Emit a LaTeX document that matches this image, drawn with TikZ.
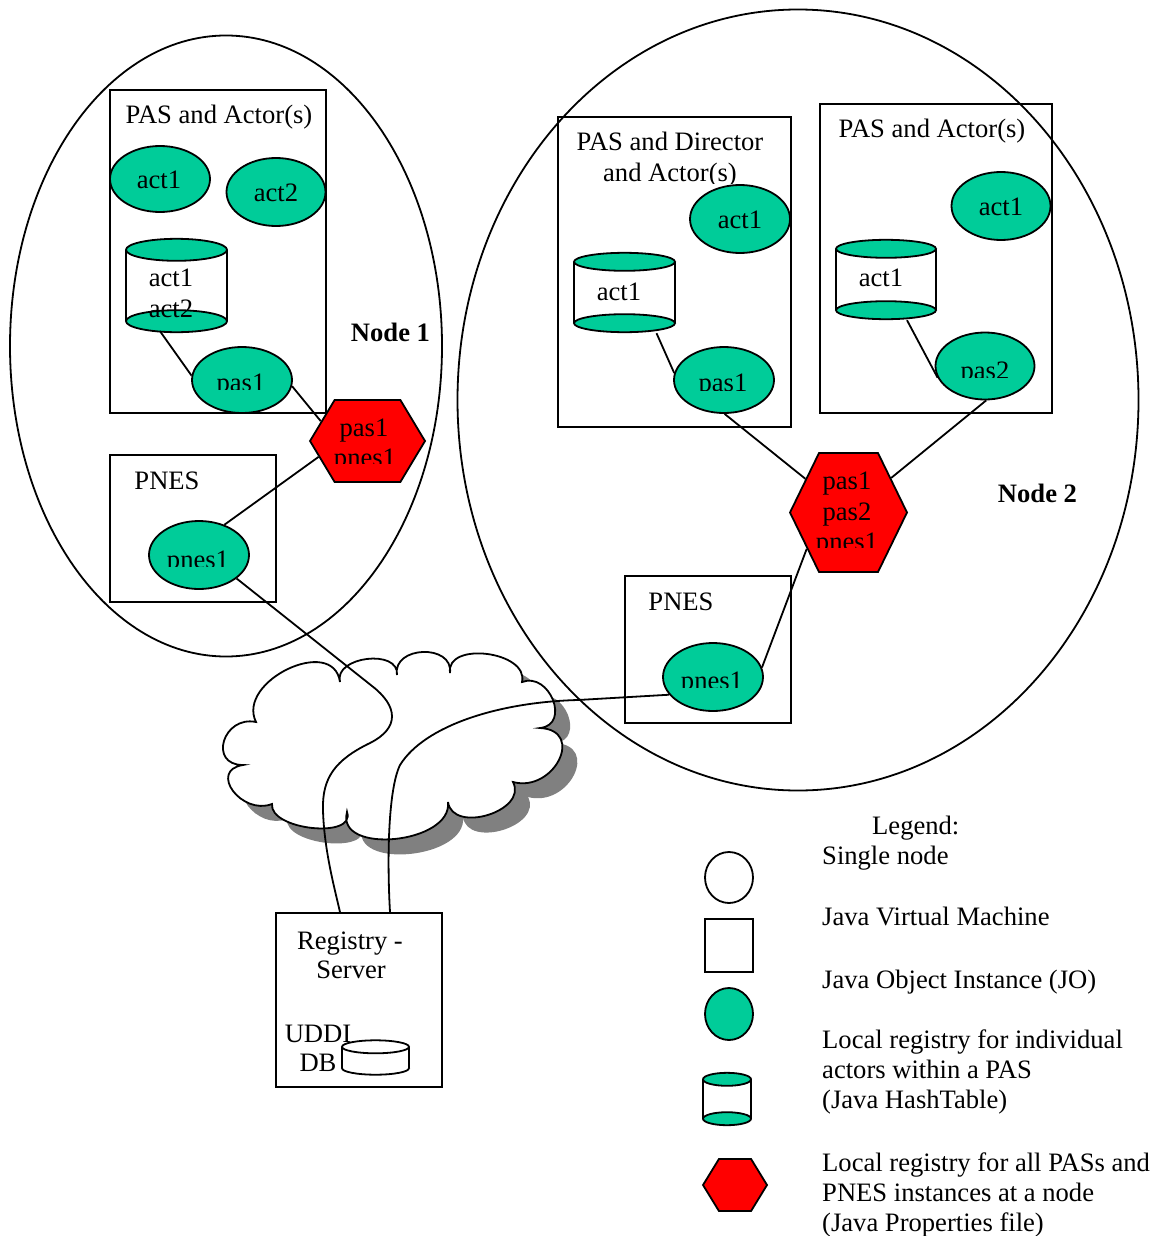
\documentclass[tikz,border=0pt]{standalone}
\usepackage{fontspec}
\setmainfont{Liberation Serif}
\usetikzlibrary{shapes.geometric,shapes.symbols,calc}
\definecolor{jo}{RGB}{0,204,153}
\definecolor{regred}{RGB}{255,0,0}
\definecolor{cloudshade}{RGB}{128,128,128}

% one puff of the network cloud: from #1 bulging through #2 to #3
\newcommand\cbump[3]{.. controls ($0.4133*(#1)+1.3333*(#2)-0.7467*(#3)$)
  and ($1.3333*(#2)+0.4133*(#3)-0.7467*(#1)$) .. (#3)}
\newcommand\cloudoutline{(256,722)
  \cbump{256,722}{288,669}{340,682}
  \cbump{340,682}{367,659}{397,675}
  \cbump{397,675}{423,652}{450,673}
  \cbump{450,673}{487,654}{522,682}
  \cbump{522,682}{553,700}{540,728}
  \cbump{540,728}{559,760}{513,782}
  \cbump{513,782}{488,815}{448,802}
  \cbump{448,802}{395,839}{347,812}
  \cbump{347,812}{312,828}{272,804}
  \cbump{272,804}{233,791}{243,765}
  \cbump{243,765}{224,741}{256,722} -- cycle}

% hashtable cylinder: name, centre x, centre y, width, height, cap half-height
\newcommand\hashtab[6]{%
  \node[cylbox, minimum width=#4, minimum height=#5] (#1) at (#2,#3) {};
  \fill[white] ($(#1.north west)+(0,#6)$) rectangle ($(#1.south east)+(0,-#6)$);
  \draw[ln] ($(#1.north west)+(0,#6)$) -- ($(#1.south west)+(0,-#6)$)
            ($(#1.north east)+(0,#6)$) -- ($(#1.south east)+(0,-#6)$);
  \draw[ln, fill=jo] ($(#1.south)+(0,-#6)$) ellipse [x radius=#4/2, y radius=#6];
  \draw[ln, fill=jo] ($(#1.north)+(0,#6)$) ellipse [x radius=#4/2, y radius=#6];}

% label cut off below a given line: name, x, baseline y, cut y, text
\newcommand\cutlabel[5]{%
  \begin{scope}
    \clip (#2-130,#4) rectangle (#2+130,#4-70);
    \node[lbl] (#1) at (#2,#3) {#5};
  \end{scope}}

\begin{document}
\begin{tikzpicture}[x=1pt,y=-1pt,
  every node/.style={font=\fontsize{26.6}{30}\selectfont},
  ln/.style={line width=1.8pt},
  host/.style={draw, ln, ellipse, inner sep=0pt},
  jvm/.style={draw, ln, rectangle, inner sep=0pt},
  jo/.style={draw, ln, ellipse, fill=jo, inner sep=0pt},
  hexreg/.style={draw, ln, fill=regred, signal, signal to=east and west, inner sep=0pt},
  cylbox/.style={rectangle, inner sep=0pt},
  lbl/.style={inner sep=0pt, anchor=base},
  lblw/.style={inner sep=0pt, anchor=base west},
  nodelbl/.style={lbl, font=\fontsize{26.6}{30}\selectfont\bfseries},
  wire/.style={ln}]
\useasboundingbox (0,0) rectangle (1165,1236);

% hosts
\node[host, minimum width=432, minimum height=621] (host1) at (226,346) {};
\node[host, minimum width=681, minimum height=781] (host2) at (798,400) {};

% network cloud with its shadow
\fill[cloudshade, transform canvas={shift={(15pt,-15pt)}}] \cloudoutline;
\draw[ln, fill=white] \cloudoutline;

% virtual machines
\node[jvm, minimum width=216, minimum height=323] (jvmA) at (218,251.5) {};
\node[jvm, minimum width=166, minimum height=147] (pnesboxA) at (193,528.5) {};
\node[jvm, minimum width=233, minimum height=310] (jvmB) at (674.5,272) {};
\node[jvm, minimum width=232, minimum height=309] (jvmC) at (936,258.5) {};
\node[jvm, minimum width=166, minimum height=147] (pnesboxB) at (708,649.5) {};
\node[jvm, minimum width=166, minimum height=174] (registry) at (359,1000) {};

% java objects
\node[jo, minimum width=100, minimum height=66] (actA1) at (160,179) {};
\node[jo, minimum width=99, minimum height=68] (actA2) at (276,192) {};
\node[jo, minimum width=100, minimum height=66] (pasA) at (242,380) {};
\node[jo, minimum width=100, minimum height=68] (pnesA) at (199,555) {};
\node[jo, minimum width=100, minimum height=68] (actB1) at (740,219) {};
\node[jo, minimum width=100, minimum height=66] (pasB) at (724,380) {};
\node[jo, minimum width=99, minimum height=68] (actC1) at (1001,206) {};
\node[jo, minimum width=99, minimum height=67] (pasC) at (985,366) {};
\node[jo, minimum width=100, minimum height=68] (pnesB) at (713,677) {};

% local hashtables
\hashtab{tabA}{176.5}{285.5}{101}{93}{11}
\hashtab{tabB}{624.5}{292.5}{101}{79}{9}
\hashtab{tabC}{886}{279.5}{100}{79}{9}

% node registries
\node[hexreg, minimum width=115, minimum height=82, signal pointer angle=118] (hexA) at (367.5,441) {};
\node[hexreg, minimum width=117, minimum height=119, signal pointer angle=128] (hexB) at (848.5,512.5) {};

% UDDI database
\node[cylbox, minimum width=67, minimum height=34] (db) at (375.5,1057.5) {};
\draw[ln, fill=white] ($(db.south)+(0,-6.5)$) ellipse [x radius=33.5, y radius=6.5];
\fill[white] ($(db.north west)+(0,6.5)$) rectangle ($(db.south east)+(0,-6.5)$);
\draw[ln] ($(db.north west)+(0,6.5)$) -- ($(db.south west)+(0,-6.5)$)
          ($(db.north east)+(0,6.5)$) -- ($(db.south east)+(0,-6.5)$);
\draw[ln, fill=white] ($(db.north)+(0,6.5)$) ellipse [x radius=33.5, y radius=6.5];

% texts, node 1
\node[lbl] (tA) at (219,124) {PAS and Actor(s)};
\node[lbl] (tactA1) at (159,188) {act1};
\node[lbl] (tactA2) at (276,201) {act2};
\node[lbl] (ttabA1) at (171,286) {act1};
\node[lbl] (ttabA2) at (171,317) {act2};
\cutlabel{tpasA}{241}{391}{389}{pas1}
\node[nodelbl] (n1) at (390.5,341) {Node 1};
\node[lbl] (thexA1) at (364,436) {pas1};
\cutlabel{thexA2}{365}{466}{463}{pnes1}
\node[lbl] (tpnesboxA) at (167,489) {PNES};
\cutlabel{tpnesA}{198}{568}{566}{pnes1}

% texts, node 2
\node[lbl] (tB1) at (670,150) {PAS and Director};
\cutlabel{tB2}{670}{181}{183}{and Actor(s)}
\node[lbl] (tactB1) at (740,228) {act1};
\node[lbl] (ttabB) at (619,300) {act1};
\cutlabel{tpasB}{723}{391}{390}{pas1}
\node[lbl] (tC) at (932,138) {PAS and Actor(s)};
\node[lbl] (tactC1) at (1001,215) {act1};
\node[lbl] (ttabC) at (881,286) {act1};
\cutlabel{tpasC}{985}{379}{377}{pas2}
\node[lbl] (thexB1) at (847,489) {pas1};
\node[lbl] (thexB2) at (847,520) {pas2};
\cutlabel{thexB3}{847}{550}{547}{pnes1}
\node[nodelbl] (n2) at (1037.5,502) {Node 2};
\node[lbl] (tpnesboxB) at (681,610) {PNES};
\cutlabel{tpnesB}{712}{689}{687}{pnes1}

% texts, registry server
\node[lbl] (treg1) at (350,949) {Registry -};
\node[lbl] (treg2) at (351,978) {Server};
\node[lbl] (tuddi) at (318,1042) {UDDI};
\node[lbl] (tdb) at (318,1071) {DB};

% connectors
\draw[wire] ($(tabA.south)+(-16.5,-1)$) -- (pasA.175);
\draw[wire] (pasA.-7) -- (hexA.157);
\draw[wire] (pnesA.50) -- (hexA.198);
\draw[wire] ($(tabB.south)+(32,1)$) -- (pasB.172);
\draw[wire] ($(tabC.south)+(21,1)$) -- (pasC.194);
\draw[wire] (pasB.-89) -- (hexB.142);
\draw[wire] (pasC.-88) -- (hexB.39);
\draw[wire] (pnesB.11) -- (hexB.221);
\draw[wire] (pnesA.-32) -- (372,686) .. controls (398,706) and (400,728) .. (370,743)
  .. controls (335,760) and (322,778) .. (323,810)
  .. controls (324,850) and (335,890) .. ($(registry.north)+(-19,0)$);
\draw[wire] (pnesB.202) -- (578,700) .. controls (500,702) and (425,725) .. (400,765)
  .. controls (388,790) and (387,860) .. ($(registry.north)+(31,0)$);

% legend
\node[lblw] (lgTitle) at (872,834) {Legend:};
\node[host, minimum width=48, minimum height=51] (lgHost) at (729,877.5) {};
\node[lblw] (lgHostT) at (822,864) {Single node};
\node[jvm, minimum width=48, minimum height=53] (lgJvm) at (729,945.5) {};
\node[lblw] (lgJvmT) at (822,925) {Java Virtual Machine};
\node[jo, minimum width=48, minimum height=52] (lgJo) at (729,1014) {};
\node[lblw] (lgJoT) at (822,988) {Java Object Instance (JO)};
\hashtab{lgTab}{727}{1099}{48}{52}{6.5}
\node[lblw] (lgTabT1) at (822,1048) {Local registry for individual};
\node[lblw] (lgTabT2) at (822,1078) {actors within a PAS};
\node[lblw] (lgTabT3) at (822,1108) {(Java HashTable)};
\node[hexreg, minimum width=64, minimum height=52, signal pointer angle=117] (lgHex) at (735,1185) {};
\node[lblw] (lgHexT1) at (822,1171) {Local registry for all PASs and};
\node[lblw] (lgHexT2) at (822,1201) {PNES instances at a node};
\node[lblw] (lgHexT3) at (822,1231) {(Java Properties file)};
\end{tikzpicture}
\end{document}
